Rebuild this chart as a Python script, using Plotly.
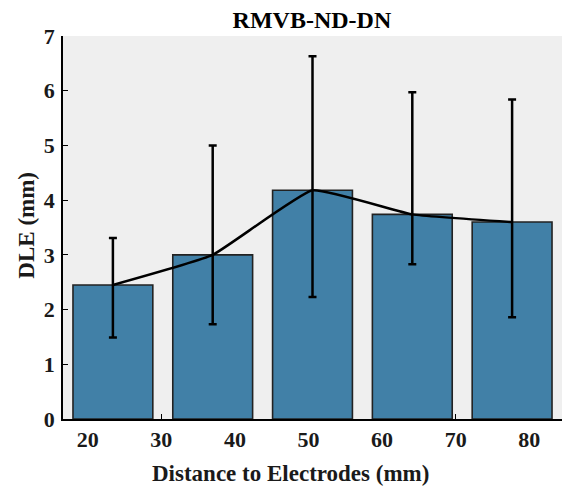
import plotly.graph_objects as go

# DLE per distance group: mean with asymmetric spread
group_index = [0, 1, 2, 3, 4]
dle_mean = [2.45, 3.00, 4.18, 3.74, 3.60]
dle_upper = [3.31, 5.00, 6.63, 5.97, 5.84]
dle_lower = [1.49, 1.73, 2.23, 2.83, 1.86]

distance_ticks = [20, 30, 40, 50, 60, 70, 80]
dle_ticks = [0, 1, 2, 3, 4, 5, 6, 7]

err_plus = [u - m for u, m in zip(dle_upper, dle_mean)]
err_minus = [m - l for m, l in zip(dle_mean, dle_lower)]

FONT = "Liberation Serif, Times New Roman, serif"
BAR_COLOR = "#4180a7"
TEXT = "#1a1a1a"

fig = go.Figure()

# invisible carrier so the distance axis is drawn
fig.add_trace(go.Scatter(
    x=distance_ticks, y=[0] * len(distance_ticks), xaxis="x", yaxis="y",
    mode="markers", marker=dict(opacity=0), hoverinfo="skip", showlegend=False,
))

fig.add_trace(go.Bar(
    x=group_index, y=dle_mean, xaxis="x2", yaxis="y",
    width=0.8,
    marker=dict(color=BAR_COLOR, line=dict(color="#222222", width=1.6)),
    showlegend=False,
))

fig.add_trace(go.Scatter(
    x=group_index, y=dle_mean, xaxis="x2", yaxis="y",
    mode="lines",
    line=dict(color="black", width=2.5, shape="spline", smoothing=0.35),
    error_y=dict(type="data", symmetric=False, array=err_plus, arrayminus=err_minus,
                 color="black", thickness=2.5, width=4),
    showlegend=False,
))

fig.update_layout(
    width=562, height=487,
    margin=dict(l=63, r=0, t=36, b=68),
    paper_bgcolor="white",
    plot_bgcolor="#efefef",
    font=dict(family=FONT, color=TEXT),
    title=dict(text="<b>RMVB-ND-DN</b>", x=0.555, xanchor="center", y=0.977, yanchor="top",
               font=dict(size=24, family=FONT, color="black")),
    xaxis=dict(
        range=[16.64, 84.44], tickvals=distance_ticks,
        ticktext=[f"<b>{v}</b>" for v in distance_ticks],
        tickfont=dict(size=22, family=FONT, color=TEXT),
        ticks="inside", ticklen=5, tickwidth=1.3, tickcolor="black",
        showline=True, linecolor="black", linewidth=1.5,
        showgrid=False, zeroline=False, layer="below traces",
    ),
    xaxis2=dict(
        range=[-0.5, 4.5], overlaying="x", side="bottom",
        showticklabels=False, ticks="", showgrid=False, zeroline=False, showline=False,
    ),
    yaxis=dict(
        range=[0, 7], tickvals=dle_ticks,
        ticktext=[f"<b>{v}</b>" for v in dle_ticks],
        tickfont=dict(size=22, family=FONT, color=TEXT),
        ticks="inside", ticklen=5, tickwidth=1.3, tickcolor="black",
        ticklabelstandoff=2,
        showline=True, linecolor="black", linewidth=1.5,
        showgrid=False, zeroline=False,
    ),
    annotations=[
        dict(text="<b>Distance to Electrodes (mm)</b>", xref="paper", yref="paper",
             x=290 / 562 * 562 / 499 - 63 / 499, y=-0.105, xanchor="center", yanchor="top",
             showarrow=False, font=dict(size=23, family=FONT, color=TEXT)),
        dict(text="<b>DLE (mm)</b>", xref="paper", yref="paper", textangle=-90,
             x=-0.072, y=0.505, xanchor="center", yanchor="middle",
             showarrow=False, font=dict(size=23, family=FONT, color=TEXT)),
    ],
)

fig.write_html("out.html")
